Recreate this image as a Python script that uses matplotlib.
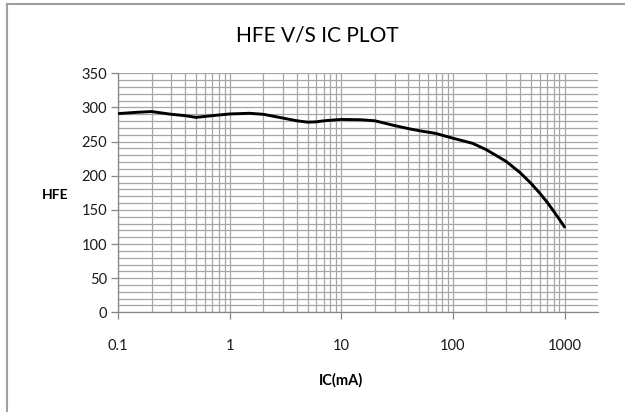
import numpy as np
import matplotlib
matplotlib.use('Agg')
import matplotlib.pyplot as plt
from matplotlib.ticker import FixedLocator, NullFormatter, MultipleLocator

# values
ic_ma = [0.1, 0.15, 0.2, 0.3, 0.4, 0.5, 0.7, 1, 1.5, 2, 3, 4, 5, 6, 7, 10, 15, 20, 30, 40, 50,
         70, 100, 150, 200, 300, 400, 500, 600, 700, 800, 900, 1000]
hfe = [291, 293, 294, 290, 288, 285.5, 288, 290.5, 291.5, 290, 284.5, 280.5, 278.5, 279, 280.5,
       282.5, 282, 280.5, 273.5, 269, 266, 262, 255, 247.5, 238, 221, 204.5, 189, 174.5, 161, 148,
       136, 125]

x_ticks = [0.1, 1, 10, 100, 1000]
x_tick_labels = ['0.1', '1', '10', '100', '1000']
y_ticks = [0, 50, 100, 150, 200, 250, 300, 350]

plt.rcParams['font.family'] = ['Lato', 'DejaVu Sans']

fig = plt.figure(figsize=(6.25, 4.12), dpi=100)
ax = fig.add_axes([0.1888, 0.242, 0.957 - 0.1888, 0.822 - 0.242])

ax.plot(ic_ma, hfe, color='black', lw=2.1, solid_capstyle='round',
        solid_joinstyle='round', zorder=3)

ax.set_xscale('log')
ax.set_xlim(0.1, 2000)
ax.set_ylim(0, 350)

ax.xaxis.set_major_locator(FixedLocator(x_ticks))
ax.set_xticklabels(x_tick_labels)
minors = [m * d for d in [0.1, 1, 10, 100, 1000] for m in range(2, 10) if m * d < 2000]
ax.xaxis.set_minor_locator(FixedLocator(minors))
ax.xaxis.set_minor_formatter(NullFormatter())
ax.set_yticks(y_ticks)
ax.yaxis.set_minor_locator(MultipleLocator(10))

gc = '#a6a6a6'
ax.grid(True, which='both', color=gc, lw=0.9)
ax.set_axisbelow(True)

for s in ['top', 'right']:
    ax.spines[s].set_visible(False)
for s in ['left', 'bottom']:
    ax.spines[s].set_color('#868686')
    ax.spines[s].set_linewidth(0.9)

ax.tick_params(axis='both', which='major', labelsize=10.5, colors='#868686',
               labelcolor='#1a1a1a', length=5, width=0.9)
ax.tick_params(axis='x', which='major', pad=14)
ax.tick_params(axis='y', which='major', pad=3)
ax.tick_params(which='minor', length=0)

fig.text(0.507, 0.915, 'HFE V/S IC PLOT', ha='center', va='center', fontsize=15)
fig.text(0.088, 0.527, 'HFE', ha='center', va='center', fontsize=10, fontweight='bold')
fig.text(0.546, 0.078, 'IC(mA)', ha='center', va='center', fontsize=10.5, fontweight='bold')

# chart frame (top and left edges visible in reference)
fig.add_artist(plt.Line2D([0.0112, 1.0], [0.990, 0.990], transform=fig.transFigure, color='#a0a0a0', lw=1.5))
fig.add_artist(plt.Line2D([0.0112, 0.0112], [0.0, 0.990], transform=fig.transFigure, color='#a0a0a0', lw=1.5))

fig.savefig('out.png', dpi=100)
